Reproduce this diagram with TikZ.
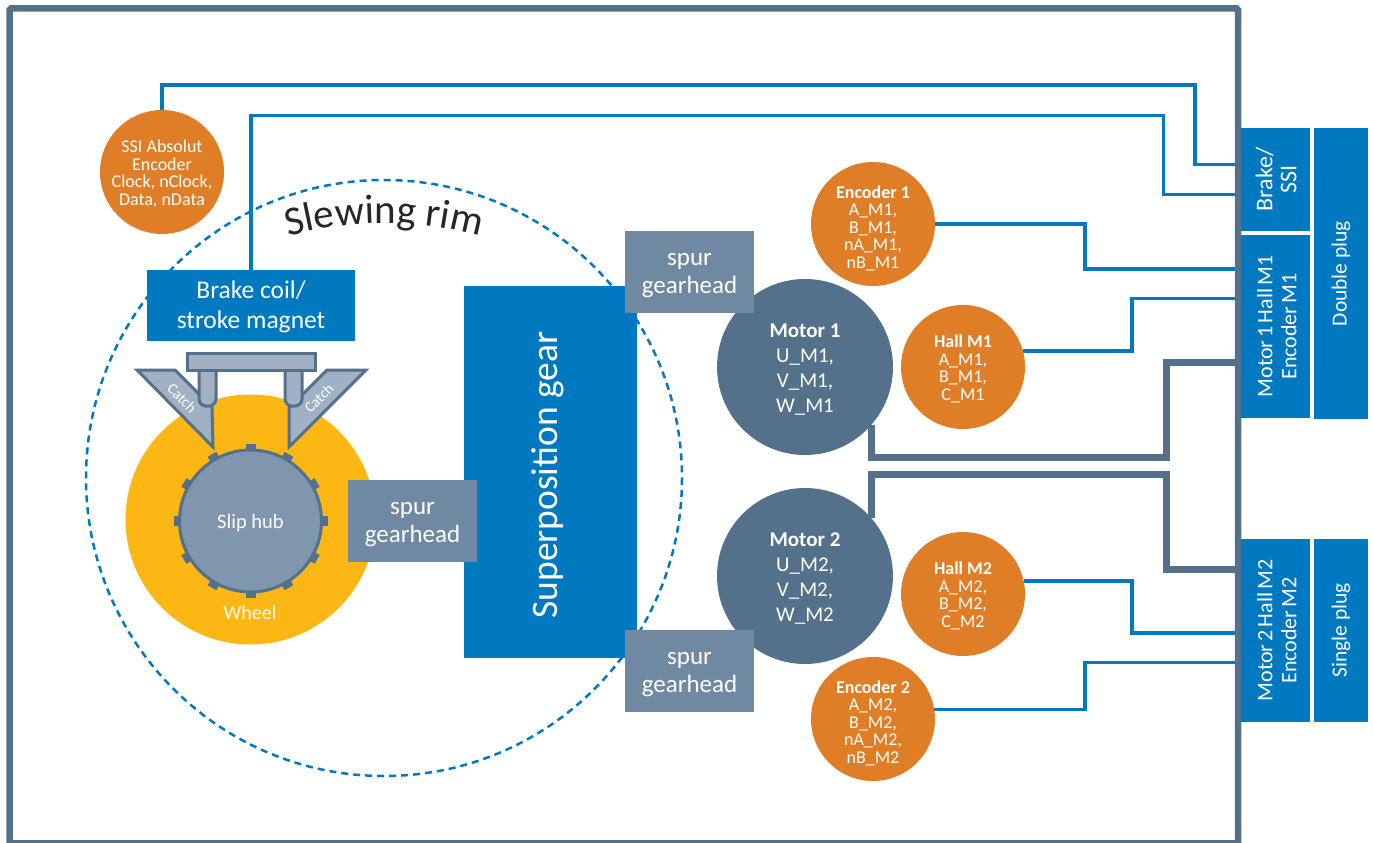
\documentclass[tikz,border=0pt]{standalone}
\usepackage{fontspec}
\setmainfont{Carlito}
\usetikzlibrary{decorations.text}
\definecolor{plugblue}{HTML}{0079C1}
\definecolor{slateblue}{HTML}{54718C}
\definecolor{spurgray}{HTML}{6F89A2}
\definecolor{hubgray}{HTML}{7F96AE}
\definecolor{catchgray}{HTML}{A0B1C3}
\definecolor{sensororange}{HTML}{DF7E27}
\definecolor{wheelyellow}{HTML}{FDB714}
\newcommand{\px}[2]{\fontsize{#1}{#2}\selectfont}
\newcommand{\drop}[1]{\rule{0pt}{#1pt}}
\newcommand{\upright}[1]{\rotatebox{90}{\spaceskip=.14em\begin{tabular}{@{}c@{}}#1\end{tabular}}}
\tikzset{
    block/.style={fill=plugblue, text=white, align=center, inner sep=0pt},
    plug/.style={block, minimum width=69pt, minimum height=183pt, font=\px{22}{24}},
    spur/.style={fill=spurgray, text=white, align=center, inner sep=0pt,
    	minimum width=129pt, minimum height=82pt, font=\px{25}{28}},
    motor/.style={circle, fill=slateblue, text=white, align=center,
    	inner sep=0pt, minimum size=176pt, font=\px{21}{25}},
    sensor/.style={circle, fill=sensororange, text=white, align=center,
    	inner sep=0pt, minimum size=124pt, font=\px{18}{17.5}},
    wire/.style={draw=plugblue, line width=3.5pt, line join=miter},
    thickwire/.style={draw=slateblue, line width=7pt, line join=miter},
    part/.style={draw=slateblue, line width=3pt, fill=catchgray}
}
\pgfdeclarelayer{background}
\pgfsetlayers{background,main}

\begin{document}
\begin{tikzpicture}[x=1pt, y=-1pt]
  \useasboundingbox (0,0) rectangle (1373,843);

  % plugs
  \node (brakessi) [plug, minimum height=103pt, font=\px{24}{24}] at (1275.5,179.5) {\hspace*{8pt}\rotatebox{90}{\begin{tabular}{@{}c@{}}Brake/\\SSI\end{tabular}}};
  \node (plugm1) [plug] at (1275.5,326.5) {\hspace*{8pt}\upright{Motor 1 Hall M1\\Encoder M1}};
  \node (plugm2) [plug] at (1275.5,630.5) {\hspace*{8pt}\upright{Motor 2 Hall M2\\Encoder M2}};
  \node (doubleplug) [block, minimum width=54pt, minimum height=291pt, font=\px{21.5}{24}] at (1341,273.5) {\rotatebox{90}{Double plug}};
  \node (singleplug) [block, minimum width=54pt, minimum height=183pt, font=\px{21.5}{24}] at (1341,630.5) {\rotatebox{90}{Single plug}};

  % wheel and hub
  \node (wheel) [circle, fill=wheelyellow, inner sep=0pt, minimum size=250pt] at (250.5,519.5) {};
  \foreach \a in {0,30,...,330}
    \fill [slateblue, rotate around={\a:(250.5,521)}] (245.5,444) rectangle (255.5,455);
  \node (hub) [circle, draw=slateblue, line width=3pt, fill=hubgray, text=white, inner sep=0pt, minimum size=142pt, font=\px{20.5}{24}] at (250.5,521) {\drop{18}Slip hub};
  \node (wheellabel) [text=white, font=\px{20}{24}] at (250,613) {Wheel};

  % catches
  \filldraw [part, line join=miter] (137,370) -- (175,370) -- (212,407) -- (213,447) -- cycle;
  \filldraw [part, line join=miter] (366,370) -- (327,370) -- (289,408) -- (289,447) -- cycle;
  \node (catchl) [text=white, rotate=-45, font=\px{15}{15}] at (182,398) {Catch};
  \node (catchr) [text=white, rotate=45, font=\px{15}{15}] at (319,398) {Catch};
  \filldraw [part, rounded corners=7pt] (199,365) -- (199,406) -- (216,406) -- (216,365);
  \filldraw [part, rounded corners=7pt] (285,365) -- (285,406) -- (302,406) -- (302,365);
  \filldraw [part] (187,353) rectangle (315,370);

  % gear blocks
  \node (brakecoil) [block, minimum width=208pt, minimum height=71pt, font=\px{25.5}{30}] at (251,305.5) {\drop{20}Brake coil/\\stroke magnet};
  \node (superpos) [block, minimum width=173pt, minimum height=372pt, font=\px{37.5}{38}] at (550.5,472) {\rotatebox{90}{Superposition gear\hspace*{6pt}}\hspace*{6pt}};
  \node (spurhub) [spur] at (412.5,521) {\drop{20}spur\\gearhead};

  % motors
  \node (motor1) [motor] at (805,367) {\drop{19}\textbf{Motor 1}\\U\_M1,\\V\_M1,\\W\_M1};
  \node (motor2) [motor] at (805,576) {\drop{19}\textbf{Motor 2}\\U\_M2,\\V\_M2,\\W\_M2};
  \node (spurm1) [spur] at (689.5,272) {\drop{20}spur\\gearhead};
  \node (spurm2) [spur] at (689.5,671) {\drop{20}spur\\gearhead};

  % sensors
  \node (ssi) [sensor] at (162,172) {\drop{16}SSI Absolut\\Encoder\\Clock, nClock,\\Data, nData};
  \node (enc1) [sensor] at (873,224) {\drop{21}\textbf{Encoder 1}\\A\_M1,\\B\_M1,\\nA\_M1,\\nB\_M1};
  \node (hall1) [sensor] at (963,367) {\drop{16}\textbf{Hall M1}\\A\_M1,\\B\_M1,\\C\_M1};
  \node (hall2) [sensor] at (963,594) {\drop{16}\textbf{Hall M2}\\A\_M2,\\B\_M2,\\C\_M2};
  \node (enc2) [sensor] at (873,719) {\drop{21}\textbf{Encoder 2}\\A\_M2,\\B\_M2,\\nA\_M2,\\nB\_M2};

  % text on the rim
  \path [decorate, decoration={text along path, text align=center,
    text={|\px{41}{41}\color{black!85}|Slewing rim}}]
    (279,239) arc (-107:-73:360);

  \begin{pgfonlayer}{background}
    \draw [plugblue, line width=2.5pt, dash pattern=on 7pt off 5pt] (384,478) circle (298);
    \draw [wire] (ssi.north) |- (1195,85) |- (brakessi.west |- 0,164.5);
    \draw [wire] (brakecoil.north) |- (1163.5,115.5) |- (brakessi.west |- 0,194.5);
    \draw [wire] (enc1.east) -| (1085,269) -- (plugm1.west |- 0,269);
    \draw [wire] (hall1.15) -| (1132,298.5) -- (plugm1.west |- 0,298.5);
    \draw [wire] (hall2.12) -| (1132,633) -- (plugm2.west |- 0,633);
    \draw [wire] (enc2.9) -| (1085,662.5) -- (plugm2.west |- 0,662.5);
    \draw [thickwire] (motor1.-41) |- (1166,457.5) |- (plugm1.west |- 0,362.5);
    \draw [thickwire] (motor2.41) |- (1166,474.5) |- (plugm2.west |- 0,569);
    \draw [slateblue, line width=6.5pt, rounded corners=1.5pt] (9.5,8.5) rectangle (1238,843.3);
  \end{pgfonlayer}
\end{tikzpicture}
\end{document}
